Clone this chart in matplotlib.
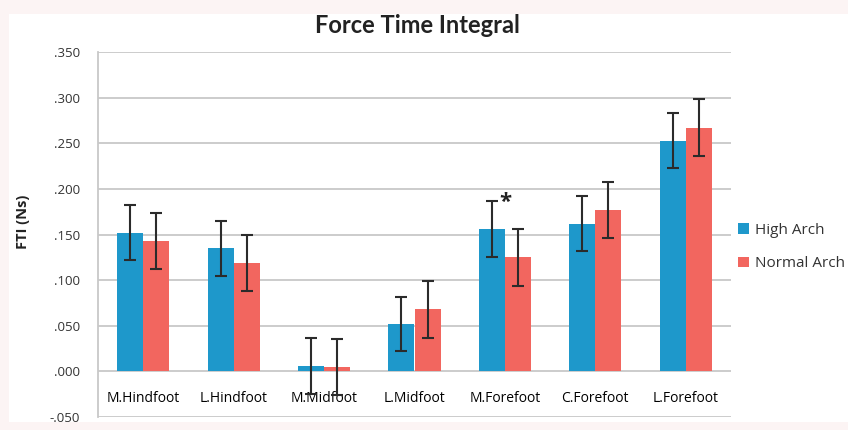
import matplotlib
matplotlib.use("Agg")
import matplotlib.pyplot as plt
import numpy as np
from matplotlib.patches import Rectangle

categories = ["M.Hindfoot", "L.Hindfoot", "M.Midfoot", "L.Midfoot", "M.Forefoot", "C.Forefoot", "L.Forefoot"]
high_arch = [0.152, 0.135, 0.006, 0.052, 0.156, 0.162, 0.253]
high_err = [0.030, 0.030, 0.031, 0.030, 0.031, 0.030, 0.030]
normal_arch = [0.143, 0.119, 0.005, 0.068, 0.125, 0.177, 0.267]
normal_err = [0.031, 0.031, 0.031, 0.031, 0.031, 0.031, 0.031]
yticks = [-0.05, 0.0, 0.05, 0.10, 0.15, 0.20, 0.25, 0.30, 0.35]
ytick_labels = ["-.050", ".000", ".050", ".100", ".150", ".200", ".250", ".300", ".350"]
series_names = ["High Arch", "Normal Arch"]

blue = "#1E98CB"
red = "#F2665F"
font = ["Open Sans", "DejaVu Sans"]
plt.rcParams['font.family'] = font

fig = plt.figure(figsize=(8.48, 4.30), dpi=100)
fig.patch.set_facecolor("#FCF4F4")
bg = Rectangle((9/848, 1-422/430), 1-9/848, (422-14)/430,
               transform=fig.transFigure, facecolor="white",
               edgecolor="none", zorder=-10)
fig.patches.append(bg)

ax = fig.add_axes([98/848, 1-417/430, (731-98)/848, (417-52)/430])
ax.set_facecolor("white")
x = np.arange(len(categories))
w = 0.288
ax.bar(x - w/2, high_arch, w, color=blue, label=series_names[0], zorder=3)
ax.bar(x + w/2, normal_arch, w, color=red, label=series_names[1], zorder=3)
ax.errorbar(x - w/2, high_arch, yerr=high_err, fmt="none", ecolor="#2b2b2b",
            elinewidth=1.5, capsize=4, capthick=1.5, zorder=4)
ax.errorbar(x + w/2, normal_arch, yerr=normal_err, fmt="none", ecolor="#2b2b2b",
            elinewidth=1.5, capsize=4, capthick=1.5, zorder=4)

ax.set_xlim(-0.5, len(categories) - 0.5)
ax.set_ylim(-0.05, 0.35)
ax.set_yticks(yticks)
ax.set_yticklabels(ytick_labels, fontsize=9.5, color="#333333")
ax.yaxis.grid(True, color="#c8c8c8", linewidth=1.3, zorder=0)
ax.set_axisbelow(True)
ax.tick_params(axis="y", length=0, pad=13)

ax.set_xticks(x)
ax.set_xticklabels(categories, fontsize=9.5, color="#333333")
ax.spines["bottom"].set_position(("data", 0))
ax.tick_params(axis="x", length=0, pad=14)
for s in ["top", "right", "bottom"]:
    ax.spines[s].set_visible(False)
ax.spines["left"].set_color("#c8c8c8")
ax.spines["left"].set_linewidth(1.3)

ax.text(4.0, 0.185, "*", fontsize=16, fontweight="bold", ha="center", va="center", color="#222222")

ax.set_ylabel("FTI (Ns)", fontsize=10.5, fontweight="bold", color="#222222")
ax.yaxis.set_label_coords(-0.107, 0.534)
fig.text(0.492, 0.94, "Force Time Integral", fontsize=17, fontweight="bold",
         ha="center", va="center", color="#222222", family=["Lato", "DejaVu Sans"])

leg = ax.legend(loc="center left", bbox_to_anchor=(0.99, 0.465), frameon=False,
                fontsize=11, handlelength=0.7, handleheight=0.7, handletextpad=0.4,
                labelspacing=1.2, borderaxespad=0.5)
for t in leg.get_texts():
    t.set_color("#333333")

fig.savefig("out.png", dpi=100, facecolor=fig.get_facecolor())
